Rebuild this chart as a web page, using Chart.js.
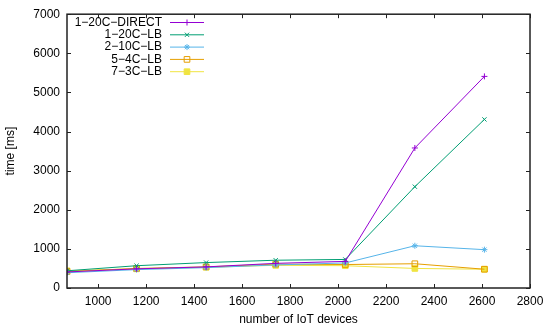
<!DOCTYPE html>
<html>
<head>
<meta charset="utf-8">
<script src="https://cdn.jsdelivr.net/npm/chart.js@4"></script>
<style>
  html, body { margin: 0; padding: 0; background: #fff; }
  #wrap { width: 550px; height: 333px; }
</style>
</head>
<body>
<div id="wrap"><canvas id="timeChart" width="550" height="333"></canvas></div>
<script>
// number of IoT devices
var devices = [870, 1160, 1450, 1740, 2030, 2320, 2610];

var seriesNames = ["1\u221220C\u2212DIRECT", "1\u221220C\u2212LB", "2\u221210C\u2212LB", "5\u22124C\u2212LB", "7\u22123C\u2212LB"];
var direct1x20 = [410, 490, 540, 630, 680, 3580, 5410];
var lb1x20 = [440, 570, 650, 710, 730, 2590, 4310];
var lb2x10 = [390, 470, 520, 590, 640, 1080, 980];
var lb5x4 = [420, 500, 540, 610, 600, 620, 480];
var lb7x3 = [440, 490, 530, 580, 570, 500, 480];

var xTicks = [1000, 1200, 1400, 1600, 1800, 2000, 2200, 2400, 2600, 2800];
var yTicks = [0, 1000, 2000, 3000, 4000, 5000, 6000, 7000];

var colors = ['rgb(148,0,211)', 'rgb(0,158,115)', 'rgb(86,180,233)', 'rgb(230,159,0)', 'rgb(240,228,66)'];
var styles = ['cross', 'crossRot', 'star', 'rect', 'rect'];
var filled = [false, false, false, false, true];
var allSeries = [direct1x20, lb1x20, lb2x10, lb5x4, lb7x3];

var FONT = "'Liberation Sans', Arial, sans-serif";

function toPoints(vals) {
    return vals.map(function (v, i) { return { x: devices[i], y: v }; });
}

var datasets = allSeries.map(function (vals, i) {
    return {
        label: seriesNames[i],
        data: toPoints(vals),
        borderColor: colors[i],
        backgroundColor: filled[i] ? colors[i] : 'rgba(0,0,0,0)',
        borderWidth: 1,
        pointStyle: styles[i],
        pointRadius: styles[i] == 'rect' ? 4 : 3,
        pointBorderWidth: 1,
        pointBorderColor: colors[i],
        pointBackgroundColor: filled[i] ? colors[i] : 'rgba(0,0,0,0)',
        tension: 0
    };
});

function drawMark(ctx, style, r, x, y, color, fill) {
    ctx.save();
    ctx.strokeStyle = color;
    ctx.fillStyle = color;
    ctx.lineWidth = 1;
    ctx.beginPath();
    if (style == 'cross' || style == 'star') {
        ctx.moveTo(x - r, y); ctx.lineTo(x + r, y);
        ctx.moveTo(x, y - r); ctx.lineTo(x, y + r);
    }
    if (style == 'crossRot' || style == 'star') {
        var d = r * Math.SQRT1_2;
        ctx.moveTo(x - d, y - d); ctx.lineTo(x + d, y + d);
        ctx.moveTo(x - d, y + d); ctx.lineTo(x + d, y - d);
    }
    if (style == 'rect') {
        var s = r * Math.SQRT1_2;
        ctx.rect(x - s, y - s, 2 * s, 2 * s);
        if (fill) ctx.fill();
    }
    ctx.stroke();
    ctx.restore();
}

// gnuplot-like frame with inward ticks on all four sides + legend
var framePlugin = {
    id: 'frame',
    afterDatasetsDraw: function (chart) {
        var ctx = chart.ctx;
        var a = chart.chartArea;
        var xs = chart.scales.x, ys = chart.scales.y;
        var tl = 4;
        ctx.save();
        ctx.strokeStyle = '#222';
        ctx.lineWidth = 1;
        ctx.beginPath();
        xTicks.forEach(function (v) {
            var px = Math.round(xs.getPixelForValue(v)) + 0.5;
            ctx.moveTo(px, a.bottom); ctx.lineTo(px, a.bottom - tl);
            ctx.moveTo(px, a.top); ctx.lineTo(px, a.top + tl);
        });
        yTicks.forEach(function (v) {
            var py = Math.round(ys.getPixelForValue(v)) + 0.5;
            ctx.moveTo(a.left, py); ctx.lineTo(a.left + tl, py);
            ctx.moveTo(a.right, py); ctx.lineTo(a.right - tl, py);
        });
        ctx.stroke();
        ctx.lineWidth = 1.5;
        ctx.strokeRect(a.left, a.top, a.right - a.left, a.bottom - a.top);

        // legend: right-aligned text, sample line to the right
        ctx.font = '12px ' + FONT;
        ctx.fillStyle = '#000';
        ctx.textAlign = 'right';
        ctx.textBaseline = 'middle';
        chart.data.datasets.forEach(function (ds, i) {
            var y = 22.5 + i * 12.3;
            ctx.fillText(ds.label, 162, y);
            ctx.strokeStyle = ds.borderColor;
            ctx.lineWidth = 1;
            ctx.beginPath();
            ctx.moveTo(170, y);
            ctx.lineTo(204, y);
            ctx.stroke();
            drawMark(ctx, ds.pointStyle, ds.pointRadius, 187, y, ds.borderColor, filled[i]);
        });
        ctx.restore();
    }
};

var chartCanvas = document.getElementById("timeChart").getContext("2d");
var timeChart = new Chart(chartCanvas, {
    type: "line",
    data: { datasets: datasets },
    plugins: [framePlugin],
    options: {
        responsive: false,
        animation: false,
        events: [],
        layout: { padding: { top: 12, right: 20, left: 0, bottom: 0 } },
        plugins: {
            legend: { display: false },
            tooltip: { enabled: false }
        },
        scales: {
            x: {
                type: 'linear',
                min: 870,
                max: 2800,
                afterBuildTicks: function (s) {
                    s.ticks = xTicks.map(function (v) { return { value: v }; });
                },
                afterFit: function (s) { s.height = 45; },
                grid: { display: false, drawTicks: false },
                border: { display: false },
                ticks: {
                    padding: 6,
                    maxRotation: 0,
                    autoSkip: false,
                    color: '#000',
                    font: { family: FONT, size: 12 },
                    callback: function (v) { return String(v); }
                },
                title: {
                    display: true,
                    text: 'number of IoT devices',
                    color: '#000',
                    font: { family: FONT, size: 12 },
                    padding: { top: 6, bottom: 6 }
                }
            },
            y: {
                min: 0,
                max: 7000,
                afterBuildTicks: function (s) {
                    s.ticks = yTicks.map(function (v) { return { value: v }; });
                },
                afterFit: function (s) { s.width = 67; },
                grid: { display: false, drawTicks: false },
                border: { display: false },
                ticks: {
                    padding: 7,
                    autoSkip: false,
                    color: '#000',
                    font: { family: FONT, size: 12 },
                    callback: function (v) { return String(v); }
                },
                title: {
                    display: true,
                    text: 'time [ms]',
                    color: '#000',
                    font: { family: FONT, size: 12 },
                    padding: { top: 3, bottom: 0 }
                }
            }
        }
    }
});
</script>
</body>
</html>
